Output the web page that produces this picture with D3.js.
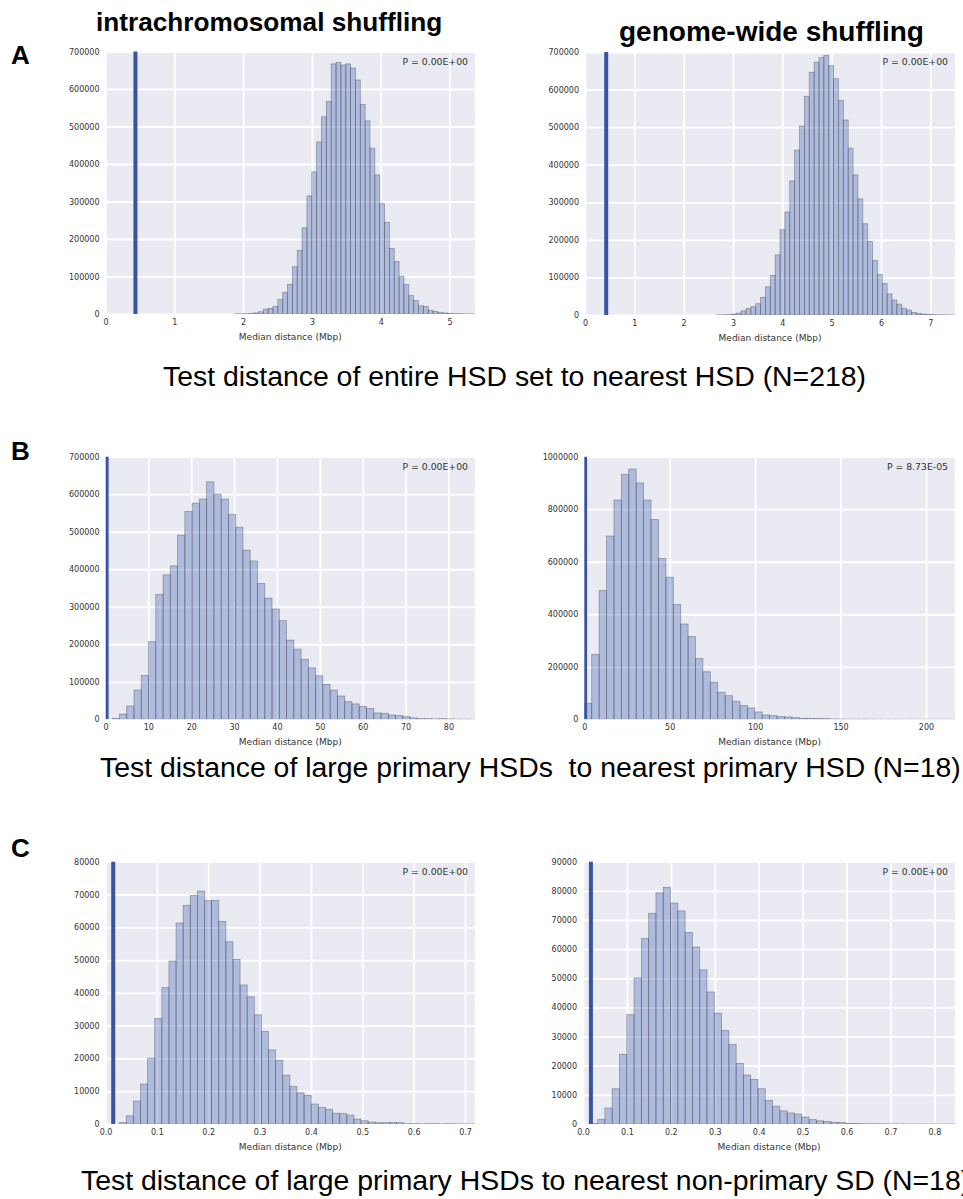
<!DOCTYPE html>
<html>
<head>
<meta charset="utf-8">
<script src="https://cdn.jsdelivr.net/npm/d3@7"></script>
<style>
  body { margin: 0; background: #fff; }
  svg { display: block; }
  .tick text { font-family: "DejaVu Sans", sans-serif; font-size: 8px; fill: #333; }
</style>
</head>
<body>
<div id="chart"></div>
<script>
// histogram counts, one array per panel (50 bins each)
var countsAL = [500, 500, 1000, 1500, 3000, 6000, 13000, 15000, 20000, 39000,
  58000, 79000, 126000, 170000, 230000, 315000, 379000, 459000, 526000, 567000,
  667000, 671000, 664000, 667000, 656000, 624000, 559000, 515000, 442000, 371000,
  294000, 244000, 175000, 140000, 100000, 79000, 49000, 36000, 22000, 20000,
  10000, 7000, 4500, 2700, 1800, 1000, 800, 500, 300, 200];
var countsAR = [500, 500, 1000, 2500, 5000, 11000, 17000, 22000, 30000, 47000,
  75000, 105000, 160000, 227000, 274000, 357000, 439000, 503000, 582000, 646000,
  673000, 685000, 691000, 664000, 629000, 571000, 519000, 444000, 373000, 309000,
  243000, 196000, 145000, 108000, 84000, 56000, 40000, 29000, 18000, 13000,
  7000, 4500, 2500, 1800, 1000, 700, 500, 300, 200];
var countsBL = [2700, 14000, 35500, 78000, 117000, 207000, 333000, 385000, 409000, 491000,
  554000, 576000, 587000, 633000, 600000, 587000, 546000, 512000, 451000, 422000,
  362000, 323000, 294000, 263000, 211000, 187000, 160000, 137000, 116000, 93000,
  78000, 62000, 47000, 41000, 34000, 29000, 17000, 16000, 11500, 9800,
  7100, 3600, 1800, 1800, 900, 1800, 900, 500, 300, 200];
var countsBR = [61000, 247000, 490000, 698000, 835000, 933000, 953000, 900000, 835000, 761000,
  612000, 541000, 437000, 363000, 315000, 231000, 181000, 141000, 103000, 90000,
  69000, 52000, 43000, 28000, 16500, 14000, 10000, 9000, 6300, 3800,
  3800, 3000, 2500, 1300, 1000, 700, 500, 400, 300, 200,
  100, 100, 50, 50, 30, 30, 20, 20, 10, 10];
var countsCL = [400, 2500, 7000, 12200, 20100, 32200, 41600, 49700, 61300, 66700,
  69700, 71000, 68100, 68200, 61800, 55600, 50200, 42400, 38800, 33300,
  28200, 22600, 19400, 14900, 11500, 9500, 8700, 6100, 5100, 4500,
  3300, 3200, 2700, 1500, 1000, 600, 400, 400, 500, 400,
  100, 100, 50, 100, 100, 50, 100, 50, 30, 30];
var countsCR = [200, 1600, 5500, 12100, 23900, 37500, 50100, 63700, 72300, 79300,
  81200, 75800, 73100, 65700, 60700, 52900, 45300, 38000, 32100, 27300,
  20800, 16800, 15300, 12100, 8100, 6100, 4500, 3800, 3400, 2400,
  1500, 1100, 900, 600, 500, 200, 150, 100, 100, 80,
  60, 50, 40, 30, 20, 20, 10, 10, 10, 10];

var allCounts = [countsAL, countsAR, countsBL, countsBR, countsCL, countsCR];
var binStarts = [1.87, 2.67, 1.56, 0, 0.0266, 0.0167];
var binWidths = [0.0705, 0.0987, 1.695, 4.34, 0.01385, 0.0166];
var observed = [0.435, 0.43, 0.35, 0.7, 0.015, 0.018];
var xMaxes = [5.37, 7.5, 86.2, 217, 0.7195, 0.847];
var yMaxes = [700000, 700000, 700000, 1000000, 80000, 90000];

var xTicksAL = [0, 1, 2, 3, 4, 5];
var xTicksAR = [0, 1, 2, 3, 4, 5, 6, 7];
var xTicksBL = [0, 10, 20, 30, 40, 50, 60, 70, 80];
var xTicksBR = [0, 50, 100, 150, 200];
var xTicksCL = [0, 0.1, 0.2, 0.3, 0.4, 0.5, 0.6, 0.7];
var xTicksCR = [0, 0.1, 0.2, 0.3, 0.4, 0.5, 0.6, 0.7, 0.8];
var allXTicks = [xTicksAL, xTicksAR, xTicksBL, xTicksBR, xTicksCL, xTicksCR];
var yTickSteps = [100000, 100000, 100000, 200000, 10000, 10000];

var pValues = ["P = 0.00E+00", "P = 0.00E+00", "P = 0.00E+00", "P = 8.73E-05", "P = 0.00E+00", "P = 0.00E+00"];
var xLabel = "Median distance (Mbp)";
var columnTitles = ["intrachromosomal shuffling", "genome-wide shuffling"];
var rowLetters = ["A", "B", "C"];
var captions = [
  "Test distance of entire HSD set to nearest HSD (N=218)",
  "Test distance of large primary HSDs  to nearest primary HSD (N=18)",
  "Test distance of large primary HSDs to nearest non-primary SD (N=18)"
];

// layout
var W = 963, H = 1199;
var boxes = [
  {x0: 105.5, x1: 475, y0: 51.5, y1: 314},
  {x0: 585, x1: 955, y0: 52, y1: 315},
  {x0: 105.5, x1: 475, y0: 456.7, y1: 719.3},
  {x0: 584.3, x1: 955, y0: 456.7, y1: 719.3},
  {x0: 105.5, x1: 475, y0: 861.7, y1: 1124},
  {x0: 583, x1: 955, y0: 861.7, y1: 1124}
];
var lineWidths = [4, 4, 3.2, 3.2, 4, 4];
var titlePos = [{x: 96, y: 31, size: 26.2}, {x: 619, y: 41, size: 28}];
var letterPos = [{x: 11, y: 64}, {x: 11, y: 460}, {x: 11, y: 857}];
var captionPos = [{x: 163, y: 386}, {x: 100, y: 777}, {x: 81, y: 1190}];

var svg = d3.select("#chart").append("svg").attr("width", W).attr("height", H);

allCounts.forEach(function(counts, p) {
  var b = boxes[p];
  var x = d3.scaleLinear().domain([0, xMaxes[p]]).range([b.x0, b.x1]);
  var y = d3.scaleLinear().domain([0, yMaxes[p]]).range([b.y1, b.y0]);
  var g = svg.append("g");

  g.append("rect").attr("x", b.x0).attr("y", b.y0)
    .attr("width", b.x1 - b.x0).attr("height", b.y1 - b.y0).attr("fill", "#eaeaf2");

  var clipId = "clip" + p;
  g.append("clipPath").attr("id", clipId).append("rect")
    .attr("x", b.x0).attr("y", b.y0 - 3).attr("width", b.x1 - b.x0).attr("height", b.y1 - b.y0 + 3);

  var yTicks = d3.range(0, yMaxes[p] + 1, yTickSteps[p]);
  var fmtX = p >= 4 ? d3.format(".1f") : d3.format("d");

  // grid
  var gx = g.append("g").attr("transform", "translate(0," + b.y1 + ")")
    .call(d3.axisBottom(x).tickValues(allXTicks[p]).tickSize(-(b.y1 - b.y0)).tickPadding(5).tickFormat(fmtX));
  gx.select(".domain").remove();
  gx.selectAll("line").attr("stroke", "#fff").attr("stroke-width", 1.8);
  gx.selectAll("text").attr("dy", "0.71em");

  var gy = g.append("g").attr("transform", "translate(" + b.x0 + ",0)")
    .call(d3.axisLeft(y).tickValues(yTicks).tickSize(-(b.x1 - b.x0)).tickPadding(6).tickFormat(d3.format("d")));
  gy.select(".domain").remove();
  gy.selectAll("line").attr("stroke", "#fff").attr("stroke-width", 1.8);

  // bars
  var bw = binWidths[p], bs = binStarts[p];
  g.append("g").attr("clip-path", "url(#" + clipId + ")")
    .selectAll("rect").data(counts).enter().append("rect")
    .attr("x", function(d, i) { return x(bs + i * bw); })
    .attr("width", function() { return x(bw) - x(0); })
    .attr("y", function(d) { return y(d); })
    .attr("height", function(d) { return y(0) - y(d); })
    .attr("fill", "rgba(80,110,185,0.38)")
    .attr("stroke", "rgba(80,80,90,0.5)")
    .attr("stroke-width", 0.8);

  // observed value
  g.append("line").attr("clip-path", "url(#" + clipId + ")")
    .attr("x1", x(observed[p])).attr("x2", x(observed[p]))
    .attr("y1", y(0)).attr("y2", y(yMaxes[p]))
    .attr("stroke", "#3953a4").attr("stroke-width", lineWidths[p]);

  g.append("text").attr("x", b.x1 - 7).attr("y", b.y0 + 13)
    .attr("text-anchor", "end")
    .style("font-family", "DejaVu Sans, sans-serif").style("font-size", "9.3px").attr("fill", "#333")
    .text(pValues[p]);

  g.append("text").attr("x", (b.x0 + b.x1) / 2).attr("y", b.y1 + 26)
    .attr("text-anchor", "middle")
    .style("font-family", "DejaVu Sans, sans-serif").style("font-size", "9px").attr("fill", "#333")
    .text(xLabel);
});

columnTitles.forEach(function(t, i) {
  svg.append("text").attr("x", titlePos[i].x).attr("y", titlePos[i].y)
    .style("font-family", "Liberation Sans, Arial, sans-serif").style("font-size", titlePos[i].size + "px")
    .style("font-weight", "bold").attr("fill", "#000").text(t);
});

rowLetters.forEach(function(t, i) {
  svg.append("text").attr("x", letterPos[i].x).attr("y", letterPos[i].y)
    .style("font-family", "Liberation Sans, Arial, sans-serif").style("font-size", "26px")
    .style("font-weight", "bold").attr("fill", "#000").text(t);
});

captions.forEach(function(t, i) {
  svg.append("text").attr("x", captionPos[i].x).attr("y", captionPos[i].y)
    .style("font-family", "Liberation Sans, Arial, sans-serif").style("font-size", "28.4px")
    .style("white-space", "pre").attr("fill", "#000").text(t);
});
</script>
</body>
</html>
